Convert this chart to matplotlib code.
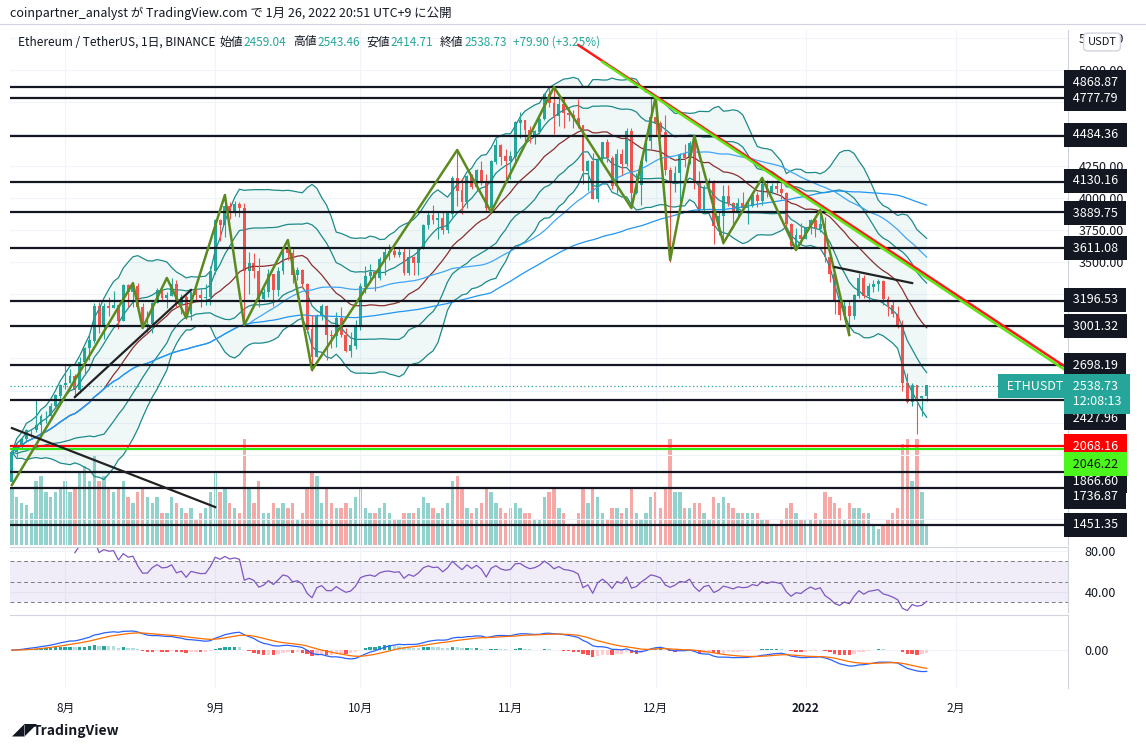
import numpy as np
import pandas as pd
import matplotlib.pyplot as plt

plt.rcParams['font.family'] = ['Noto Sans CJK JP', 'DejaVu Sans']

start = pd.Timestamp('2021-07-21')
prev_close = 1787

# daily closes / highs / lows, Jul 21 2021 - Jan 26 2022
close = [2020, 2075, 2120, 2190, 2190, 2230, 2300, 2300, 2380, 2460, 2540,
         2560, 2610, 2505, 2720, 2830, 2890, 3160, 3010, 3160, 3140, 3165, 3045, 3320, 3265, 3310, 3150,
         3010, 3015, 3180, 3285, 3225, 3240, 3325, 3175, 3225, 3100, 3270, 3245, 3225, 3230, 3430,
         3830, 3790, 3940, 3890, 3950, 3925, 3430, 3495, 3430, 3210, 3270, 3410, 3285, 3430, 3610,
         3570, 3400, 3435, 3330, 2975, 2760, 3080, 3155, 2930, 2925, 3060, 2930, 2810, 2850, 3000,
         3310, 3390, 3420, 3380, 3520, 3580, 3590, 3560, 3580, 3420, 3540, 3495, 3605, 3790, 3865,
         3830, 3845, 3750, 3880, 4155, 4060, 3970, 4170, 4085, 4220, 4130, 3925, 4285, 4415, 4325, 4290,
         4325, 4590, 4605, 4530, 4480, 4520, 4615, 4810, 4740, 4640, 4730, 4665, 4650, 4625, 4570,
         4215, 4290, 3995, 4305, 4440, 4310, 4095, 4340, 4270, 4525, 4040, 4100, 4290, 4445, 4630,
         4585, 4515, 4220, 4115, 4195, 4340, 4310, 4430, 4115, 3905, 4085, 4125, 3780, 3860, 4015,
         3960, 3890, 3960, 3925, 3940, 4020, 3980, 4105, 4045, 4090, 4070, 4040, 3795, 3625, 3710, 3680,
         3765, 3830, 3760, 3795, 3540, 3410, 3195, 3090, 3160, 3080, 3240, 3375, 3240, 3310, 3330,
         3350, 3210, 3165, 3095, 3000, 2560, 2410, 2540, 2440, 2459.04, 2538.73]
high = [2040, 2080, 2140, 2200, 2200, 2430, 2320, 2340, 2400, 2470, 2550,
        2700, 2670, 2630, 2760, 2840, 2950, 3180, 3190, 3180, 3230, 3275, 3170, 3330, 3330, 3330, 3340,
        3180, 3120, 3190, 3300, 3250, 3270, 3375, 3360, 3250, 3245, 3280, 3290, 3290, 3330, 3470,
        3840, 3840, 4030, 3970, 3980, 3970, 3960, 3580, 3570, 3530, 3300, 3450, 3410, 3460, 3620,
        3680, 3600, 3460, 3450, 3340, 3090, 3100, 3175, 3170, 2970, 3110, 3150, 2990, 2960, 3050,
        3340, 3470, 3490, 3440, 3540, 3620, 3640, 3630, 3620, 3610, 3600, 3550, 3610, 3800, 3890,
        3950, 3900, 3890, 3890, 4170, 4380, 4160, 4180, 4190, 4230, 4290, 4190, 4300, 4460, 4420, 4380,
        4370, 4600, 4670, 4610, 4560, 4530, 4630, 4820, 4870, 4860, 4780, 4780, 4700, 4690, 4770,
        4560, 4300, 4350, 4320, 4440, 4460, 4330, 4380, 4380, 4550, 4550, 4200, 4300, 4450, 4780,
        4780, 4600, 4650, 4240, 4250, 4350, 4420, 4450, 4470, 4210, 4100, 4160, 4140, 3900, 4100,
        4100, 3970, 4000, 4050, 3990, 4050, 4050, 4160, 4140, 4120, 4140, 4130, 4050, 3810, 3770, 3810,
        3770, 3840, 3850, 3880, 3850, 3560, 3420, 3230, 3200, 3200, 3250, 3420, 3400, 3340, 3360,
        3370, 3360, 3240, 3200, 3160, 3050, 2640, 2560, 2540, 2460, 2543.46]
low = [1790, 1980, 2040, 2100, 2140, 2180, 2150, 2250, 2270, 2360, 2440,
       2510, 2560, 2450, 2480, 2620, 2740, 2870, 2950, 2900, 3080, 3140, 2980, 3040, 3150, 3150, 3120,
       2990, 2950, 2950, 3180, 3200, 3140, 3240, 3150, 3100, 3060, 3050, 3200, 3150, 3170, 3170,
       3410, 3670, 3700, 3840, 3860, 3850, 3000, 3250, 3380, 3150, 3200, 3230, 3160, 3240, 3410,
       3520, 3340, 3360, 3300, 2950, 2650, 2760, 3050, 2740, 2830, 2840, 2920, 2800, 2760, 2820,
       2970, 3260, 3350, 3280, 3360, 3400, 3520, 3540, 3540, 3400, 3400, 3400, 3400, 3600, 3760,
       3800, 3680, 3720, 3730, 3850, 3940, 3880, 3920, 4070, 4060, 4100, 3900, 3900, 4270, 4260, 4150,
       4150, 4290, 4470, 4450, 4430, 4420, 4500, 4610, 4710, 4500, 4560, 4550, 4600, 4550, 4550,
       4110, 4060, 3990, 3970, 4280, 4280, 4070, 4040, 4180, 4250, 3950, 4030, 3950, 4280, 4380,
       4490, 4470, 4180, 3500, 4050, 3940, 4240, 4270, 4070, 3890, 3890, 4050, 3640, 3710, 3640,
       3940, 3770, 3860, 3910, 3800, 3930, 3930, 3950, 4010, 4030, 4040, 3990, 3780, 3600, 3600, 3640,
       3680, 3720, 3700, 3740, 3500, 3350, 3100, 3050, 3060, 2930, 3060, 3220, 3220, 3190, 3270,
       3280, 3170, 3080, 3070, 2990, 2500, 2400, 2380, 2160, 2300, 2414.71]
volume = [55, 45, 40, 38, 30, 60, 65, 50, 45, 50, 55,
          60, 50, 55, 70, 75, 60, 85, 60, 65, 55, 50, 55, 60, 45, 40, 50, 55, 45, 40, 45, 30, 30, 45,
          40, 35, 30, 35, 25, 30, 35, 50,
          70, 50, 55, 40, 35, 30, 100, 55, 40, 60, 30, 30, 40, 35, 40, 35, 40, 25, 30, 55, 70, 65, 40,
          55, 40, 35, 35, 40, 35, 45,
          55, 35, 30, 30, 35, 40, 30, 25, 25, 30, 30, 30, 35, 45, 40, 35, 30, 35, 40, 60, 65, 55, 35,
          30, 35, 40, 55, 50, 40, 35, 30,
          35, 40, 35, 30, 30, 25, 25, 45, 50, 55, 35, 30, 20, 20, 30, 55, 40, 55, 45, 30, 25, 35, 35,
          30, 35, 55, 30, 25, 30, 45,
          50, 35, 55, 100, 50, 50, 35, 35, 40, 40, 30, 25, 45, 40, 45, 40, 35, 30, 30, 30, 30, 30, 25,
          25, 20, 20, 25, 35, 40, 30, 25,
          25, 25, 30, 25, 50, 45, 40, 35, 25, 40, 35, 35, 30, 30, 20, 15, 20, 25, 30, 35, 95, 100, 60,
          100, 50, 20]

n = min(len(close), len(high), len(low), len(volume))
c = np.array(close[:n], float)
o = np.concatenate([[prev_close], c[:-1]])
h = np.maximum(np.array(high[:n], float), np.maximum(o, c))
l = np.minimum(np.array(low[:n], float), np.minimum(o, c))
v = np.array(volume[:n], float)
x = np.arange(n)

levels = [4868.87, 4777.79, 4484.36, 4130.16, 3889.75, 3611.08, 3196.53, 3001.32,
          2698.19, 2427.96, 1866.60, 1736.87, 1451.35]
# label rows on the price scale (pixel row of each box, as laid out by the chart)
level_label_rows = [82, 99, 135, 181, 213, 248, 300, 326, 365, 418, 481, 497, 525]
red_level, green_level = 2068.16, 2046.22

zig_dates = ['2021-07-21', '2021-08-15', '2021-08-17', '2021-08-22', '2021-08-26', '2021-09-03',
             '2021-09-07', '2021-09-16', '2021-09-21', '2021-10-21', '2021-10-28', '2021-11-10',
             '2021-11-26', '2021-12-01', '2021-12-04', '2021-12-09', '2021-12-15', '2021-12-23',
             '2021-12-30', '2022-01-04', '2022-01-10']
zig_prices = [1763, 3338, 2987, 3378, 3066, 4025, 3011, 3674, 2660, 4376, 3892, 4867,
              3923, 4789, 3518, 4485, 3650, 4158, 3596, 3908, 2933]


def day(d):
    return (pd.Timestamp(d) - start).days


s = pd.Series(c)
mid = s.rolling(20, min_periods=1).mean()
sd = s.rolling(20, min_periods=2).std().fillna(0)
ma50 = s.rolling(50, min_periods=1).mean()
ma100 = s.rolling(100, min_periods=1).mean()

W, H = 1146, 749
fig = plt.figure(figsize=(W / 100, H / 100), dpi=100)
L, Wd = 10 / W, 1058 / W
ax = fig.add_axes([L, 1 - 545 / H, Wd, 515 / H])
ax_r = fig.add_axes([L, 1 - 612 / H, Wd, 65 / H], sharex=ax)
ax_m = fig.add_axes([L, 1 - 688 / H, Wd, 73 / H], sharex=ax)

up_col, dn_col = '#26a69a', '#ef5350'
cols = np.where(c >= o, up_col, dn_col)

# volume overlay
axv = ax.twinx()
axv.bar(x, v, width=0.7, color=cols, alpha=0.5)
axv.set_ylim(0, 100 * 515 / 106)
axv.axis('off')
ax.set_zorder(axv.get_zorder() + 1)
ax.patch.set_visible(False)

# bollinger
ax.fill_between(x, mid + 2 * sd, mid - 2 * sd, color='#26a69a', alpha=0.07, lw=0)
for k in (2, -2, 1, -1):
    ax.plot(x, mid + k * sd, color='#1e8a8a', lw=0.9)
ax.plot(x, mid, color='#8b2e2e', lw=0.9)
ax.plot(x, ma50, color='#42a5f5', lw=0.9)
ax.plot(x, ma100, color='#2196f3', lw=0.9)

ax.vlines(x, l, h, color=cols, lw=0.8)
ax.bar(x, np.abs(c - o) + 2, bottom=np.minimum(o, c), width=0.6, color=cols)

for lv in levels:
    ax.axhline(lv, color='#131722', lw=1.6)
ax.axhline(red_level, color='#ff0000', lw=1.6)
ax.axhline(green_level, color='#2ee80f', lw=1.6)
ax.axhline(c[-1], color='#26a69a', lw=0.9, ls=(0, (1, 2)))

ax.plot([day(d) for d in zig_dates], zig_prices, color='#5b8a1e', lw=1.8)
ax.plot([day('2021-11-15'), 218], [5195, 2676], color='#ff1a1a', lw=1.8)
ax.plot([day('2021-11-20'), 218], [5062, 2650], color='#5ee61a', lw=1.8)
ax.plot([day('2021-08-03'), day('2021-08-27')], [2449, 3284], color='#222', lw=1.6)
ax.plot([0, day('2021-09-01')], [2207, 1591], color='#222', lw=1.6)
ax.plot([day('2022-01-07'), day('2022-01-23')], [3463, 3338], color='#222', lw=1.6)

ax.set_xlim(-0.4, 218.2)
ax.set_ylim(1295, 5312)
ax.yaxis.tick_right()
ax.set_yticks(np.arange(1500, 5251, 250))
ax.set_yticklabels([f'{t:.2f}' for t in np.arange(1500, 5251, 250)])
ax.tick_params(axis='y', length=0, labelsize=9, colors='#131722', pad=8)
ax.tick_params(axis='x', length=0, labelbottom=False)

months = ['2021-08-01', '2021-09-01', '2021-10-01', '2021-11-01', '2021-12-01', '2022-01-01', '2022-02-01']
mlabels = ['8月', '9月', '10月', '11月', '12月', '2022', '2月']
for a in (ax, ax_r, ax_m):
    a.set_xticks([day(d) for d in months])
    a.grid(True, color='#f0f3fa', lw=0.8)
    a.set_axisbelow(True)
    for sp in ['top', 'left', 'bottom']:
        a.spines[sp].set_visible(False)
    a.spines['right'].set_color('#d1d4dc')


def box(row, text, fc, tc='white', ha='left', px=1070, **kw):
    fig.text(px / W, 1 - row / H, text, ha=ha, va='center', fontsize=9, color=tc,
             bbox=dict(boxstyle='square,pad=0.45', fc=fc, ec='none'), **kw)


for lv, row in zip(levels, level_label_rows):
    box(row, f' {lv:.2f} ', '#131722')
box(446, f' {red_level:.2f} ', '#ff0000')
box(464, f' {green_level:.2f} ', '#4cf51c', tc='#131722')
box(394, f' {c[-1]:.2f} \n 12:08:13 ', '#26a69a', linespacing=1.25)
box(386, ' ETHUSDT ', '#26a69a', ha='right', px=1066)
fig.text(1102 / W, 1 - 42 / H, 'USDT', ha='center', va='center', fontsize=8, color='#131722',
         bbox=dict(boxstyle='round,pad=0.35', fc='white', ec='#d1d4dc'))

# RSI
d = s.diff().fillna(0)
gain = d.clip(lower=0).ewm(alpha=1 / 14, adjust=False).mean()
loss = (-d.clip(upper=0)).ewm(alpha=1 / 14, adjust=False).mean()
rsi = 100 - 100 / (1 + gain / loss.replace(0, np.nan))
ax_r.axhspan(30, 70, color='#7e57c2', alpha=0.1, lw=0)
for lv in (70, 50, 30):
    ax_r.axhline(lv, color='#787b86', lw=0.7, ls=(0, (4, 3)))
ax_r.plot(x, rsi, color='#7e57c2', lw=0.9)
ax_r.set_ylim(20.5, 84)
ax_r.yaxis.tick_right()
ax_r.set_yticks([40, 80])
ax_r.set_yticklabels(['40.00', '80.00'])
ax_r.tick_params(axis='y', length=0, labelsize=9, colors='#131722', pad=12)
ax_r.tick_params(axis='x', length=0, labelbottom=False)
ax_r.spines['top'].set_visible(True)
ax_r.spines['top'].set_color('#d1d4dc')

# MACD
e12 = s.ewm(span=12, adjust=False).mean()
e26 = s.ewm(span=26, adjust=False).mean()
macd = e12 - e26
sig = macd.ewm(span=9, adjust=False).mean()
hist = macd - sig
hd = hist.diff().fillna(0)
hcols = np.where(hist >= 0, np.where(hd >= 0, '#26a69a', '#b2dfdb'),
                 np.where(hd <= 0, '#ff5252', '#ffcdd2'))
ax_m.bar(x, hist, width=0.7, color=hcols)
ax_m.plot(x, macd, color='#2962ff', lw=0.9)
ax_m.plot(x, sig, color='#ff6d00', lw=0.9)
ax_m.set_ylim(-560, 520)
ax_m.yaxis.tick_right()
ax_m.set_yticks([0])
ax_m.set_yticklabels(['0.00'])
ax_m.tick_params(axis='y', length=0, labelsize=9, colors='#131722', pad=12)
ax_m.set_xticklabels(mlabels)
ax_m.tick_params(axis='x', length=0, labelsize=8.5, colors='#131722', pad=10)
ax_m.get_xticklabels()[5].set_fontweight('bold')
ax_m.spines['top'].set_visible(True)
ax_m.spines['top'].set_color('#d1d4dc')

fig.text(10 / W, 1 - 13 / H, 'coinpartner_analyst が TradingView.com で 1月 26, 2022 20:51 UTC+9 に公開',
         fontsize=9, va='center', color='#131722')
fig.add_artist(plt.Line2D([0, 1], [1 - 24 / H] * 2, color='#d1d4dc', lw=0.8))
ty = 1 - 42 / H
fig.text(18 / W, ty, 'Ethereum / TetherUS, 1日, BINANCE', fontsize=8.5, va='center', color='#131722')
parts = [(220, '始値', '#131722'), (243, '2459.04', '#26a69a'), (293, '高値', '#131722'),
         (317, '2543.46', '#26a69a'), (366, '安値', '#131722'), (390, '2414.71', '#26a69a'),
         (440, '終値', '#131722'), (464, '2538.73', '#26a69a'), (513, '+79.90 (+3.25%)', '#26a69a')]
for px, t, col in parts:
    fig.text(px / W, ty, t, fontsize=8.5, va='center', color=col)
fig.text(12 / W, 1 - 731 / H, '◢◤', fontsize=9, va='center', color='#131722')
fig.text(33 / W, 1 - 731 / H, 'TradingView', fontsize=10, va='center', color='#131722', fontweight='bold')

fig.savefig('out.png', dpi=100)
